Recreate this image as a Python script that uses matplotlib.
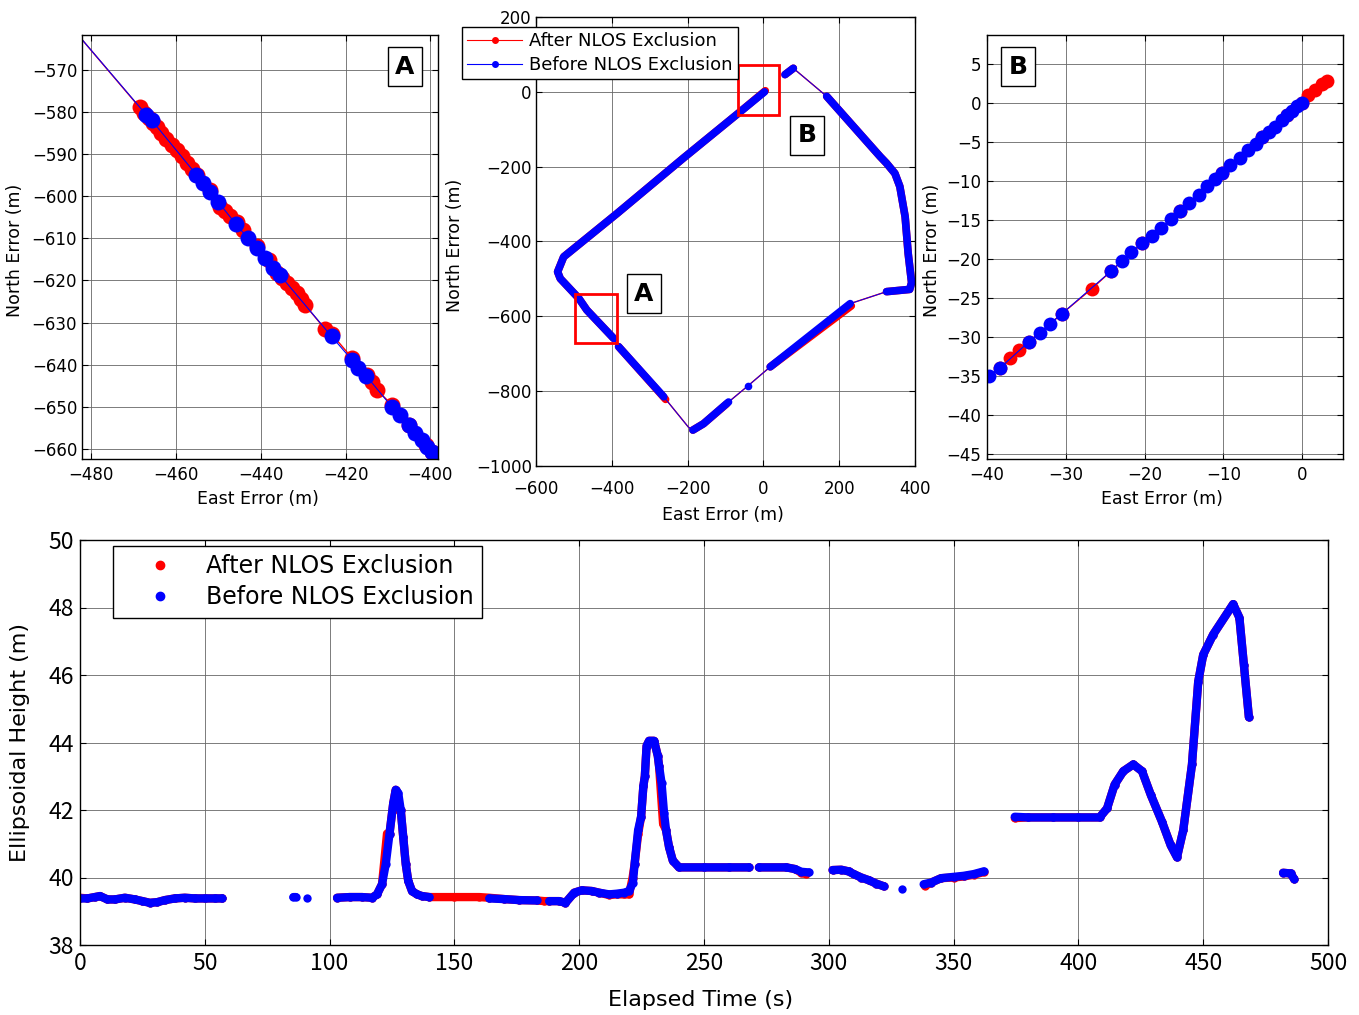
import numpy as np
import matplotlib.pyplot as plt
from matplotlib.lines import Line2D
from matplotlib.patches import Rectangle

nan = np.nan

# ---------------- panel A : zoom of south-west leg ----------------
a_red_e = [-487, -468.6, -467.5, -466.5, -465.5, -464.6, -463.5, -462.3, -461, -459.9, -458.7,
           -457.5, -456.3, -455, -452, -449.7, -448.5, -447.3, -445.7, -444.1, -441, -438,
           -436.3, -435, -433.9, -432.7, -431.5, -430.5, -429.6, -424.8, -423.3, -418.5, -415,
           -413.8, -412.6, -409, -405, -401, -399.6, -395]
a_red_n = [-557.1, -578.9, -580.2, -581.4, -582.5, -583.6, -585.0, -586.4, -587.8, -589.0,
           -590.5, -592.1, -593.5, -595.0, -598.6, -602.5, -603.6, -604.6, -606.2, -608.0,
           -611.7, -615.2, -618.3, -619.5, -620.7, -621.9, -623.0, -624.4, -625.8, -631.6,
           -632.7, -638.4, -642.5, -644.0, -646.0, -649.6, -654.4, -659.1, -660.8, -666.3]
a_blue_e = [-487, -467, -465.8, -455.2, -453.6, -452, -450.1, -445.9, -443, -441, -439, -437.1,
            -435.5, -423.3, -418.5, -417, -415.1, -409.1, -407.1, -405.1, -403.6, -402, -400.8,
            -399.6, -395]
a_blue_n = [-557.1, -580.7, -581.9, -594.9, -596.9, -598.9, -601.3, -606.6, -610, -612.4, -614.7,
            -617.1, -618.7, -633.3, -638.9, -640.9, -642.7, -650, -652, -654.3, -656.3, -657.9,
            -659.5, -660.8, -666.3]

# ---------------- middle : whole trajectory ----------------
mid_e = [3, -61, -211, -386, -527, -543, -536, -487, -466, -395, -382, -263, -198, -184, -158,
         -92, -41, 18, 229, 325, 386, 391, 382, 374, 360, 347, 325, 308, 167, 79, 57]
mid_n = [0, -53, -177, -325, -441, -481, -499, -552, -583, -659, -681, -815, -896, -905, -887,
         -829, -786, -735, -566, -534, -528, -510, -432, -334, -253, -218, -191, -173, -12, 63, 46]
# parts of the trajectory with dense fixes (nan = gap)
dense_blue_e = [3, -61, -211, -386, -527, -543, -536, -487, -466, -395, nan,
                -382, -263, nan, -186, -158, -92, nan, -41, nan, 18, 229, nan,
                325, 386, 391, 382, 374, 360, 347, 325, 308, 167, nan, 79, 57]
dense_blue_n = [0, -53, -177, -325, -441, -481, -499, -552, -583, -659, nan,
                -681, -815, nan, -904, -887, -829, nan, -786, nan, -735, -566, nan,
                -534, -528, -510, -432, -334, -253, -218, -191, -173, -12, nan, 63, 46]
dense_red_e = [5, -61, -211, -386, -527, -543, -536, -487, -466, -395, nan,
               -382, -258, nan, -186, -158, -97, nan, 18, 232, nan,
               325, 386, 391, 382, 374, 360, 347, 325, 308, 167, nan, 79, 57]
dense_red_n = [3, -53, -177, -325, -441, -481, -499, -552, -583, -659, nan,
               -681, -822, nan, -904, -887, -834, nan, -735, -572, nan,
               -534, -528, -510, -432, -334, -253, -218, -191, -173, -12, nan, 63, 46]

# ---------------- panel B : zoom near origin ----------------
b_red_e = [-45, -38.3, -37.1, -35.9, -34.7, -30.5, -26.7, -24.2, -20.3, -15.5, -10.2, -5.1,
           -1.9, 0, 0.8, 1.7, 2.5, 3.2]
b_red_n = [-39.6, -33.9, -32.7, -31.6, -30.6, -27, -23.8, -21.5, -18, -13.9, -9, -4.4,
           -1.6, 0.05, 1.0, 1.7, 2.4, 2.8]
b_blue_e = [-45, -39.8, -38.3, -34.7, -33.3, -32, -30.5, -24.2, -22.9, -21.7, -20.3, -19, -17.9,
            -16.7, -15.5, -14.3, -13.1, -12.1, -11.1, -10.2, -9.1, -7.9, -6.8, -5.9, -5.1, -4.2,
            -3.4, -2.5, -1.9, -1.3, -0.6, 0]
b_blue_n = [-39.6, -35, -33.9, -30.6, -29.4, -28.3, -27, -21.5, -20.2, -19.1, -18, -17, -16,
            -14.9, -13.9, -12.8, -11.8, -10.7, -9.8, -9, -8, -7.1, -6, -5.2, -4.4, -3.7, -3.1,
            -2.2, -1.6, -1, -0.4, 0.05]

# ---------------- bottom : ellipsoidal height ----------------
t_blue = [0, 3, 6, 8, 11, 14, 18, 22, 25, 28, 31, 34, 38, 42, 46, 50, 54, 57, nan,
          85.5, 86.5, nan, 91, nan,
          103, 108, 113, 117, 119, 121, 122.5, 124, 125.5, 126.5, 127.5, 128.5, 129.5, 130.5,
          131.5, 133, 135, 137, 140, nan,
          164, 170, 176, 183, nan, 188, 192, 194.5, 198, 201, 205, 208, 212, 215, 218, 220,
          221.5, 222.2, 223.6, 224.8, 225.7, 226.3, 227, 228, 230, 231.5, 232, 233, 234, 234.8,
          236, 237.5, 240, 250, 260, 268, nan,
          272, 283, 286.5, 289, 292, nan,
          301.5, 305, 308, 310, 313, 316, 319, 322, nan, 329.5, nan,
          338, 341, 345, 350, 354, 358, 362, nan,
          374.5, 380, 390, 400, 408.5, 411.5, 414.5, 418, 422, 425.5, 429, 433.5, 437, 439.5,
          442, 445.5, 448, 450, 454, 462, 464.5, 466.3, 468.3, nan,
          482, 485, 486.5]
h_blue = [39.38, 39.38, 39.42, 39.45, 39.35, 39.35, 39.4, 39.35, 39.3, 39.25, 39.27, 39.33,
          39.38, 39.4, 39.38, 39.38, 39.38, 39.38, nan,
          39.42, 39.42, nan, 39.4, nan,
          39.4, 39.42, 39.42, 39.4, 39.5, 39.8, 40.4, 41.3, 42.2, 42.6, 42.5, 42.0, 41.2, 40.4,
          39.9, 39.6, 39.5, 39.45, 39.42, nan,
          39.38, 39.36, 39.33, 39.32, nan, 39.3, 39.3, 39.25, 39.55, 39.62, 39.6, 39.55, 39.5,
          39.52, 39.55, 39.6,
          39.85, 40.4, 41.4, 41.8, 42.7, 43.0, 43.9, 44.05, 44.05, 43.6, 43.3, 42.8, 41.9, 41.4,
          40.9, 40.5, 40.3, 40.3, 40.3, 40.3, nan,
          40.3, 40.3, 40.25, 40.17, 40.15, nan,
          40.22, 40.23, 40.18, 40.1, 40.0, 39.92, 39.82, 39.74, nan, 39.67, nan,
          39.8, 39.85, 39.98, 40.02, 40.05, 40.1, 40.18, nan,
          41.8, 41.78, 41.78, 41.78, 41.78, 42.05, 42.75, 43.15, 43.35, 43.15, 42.45, 41.65,
          40.95, 40.6, 41.4, 43.35, 45.8, 46.6, 47.2, 48.1, 47.7, 46.3, 44.75, nan,
          40.14, 40.12, 39.95]
t_red = [0, 3, 6, 8, 11, 14, 18, 22, 25, 28, 31, 34, 38, 42, 46, 50, 54, 57, nan,
         103, 108, 113, 117, 119, 121, 123, 124, 125.5, 126.5, 127.7, 128.5, 129.5, 130.5,
         131.5, 133, 135, 137, 140, 150, 160, 164, 170, 176, 183, 186, 188, 192, 194.5, 198,
         201, 205, 208, 212, 215, 218, 220, 221.4, 222.2, 223.6, 224.8, 225.7, 226.3, 227, 228,
         230, 231.5, 232, 232.8, 233.6, 234.8, 236, 237.5, 240, 250, 260, 268, nan,
         272, 283, 286.5, 289, 291, nan,
         301.5, 305, 308, 310, 313, 316, 319, 322, nan,
         338.5, 341, 345, 350, 354, 358, 362, nan,
         374.5, 380, 390, 400, 408.5, 411.5, 414.5, 418, 422, 425.5, 429, 433.5, 437, 439.5,
         442, 445.5, 448, 450, 454, 462, 464.5, 466.3, 468.3, nan,
         482, 485, 486.5]
h_red = [39.4, 39.38, 39.42, 39.45, 39.35, 39.35, 39.4, 39.35, 39.3, 39.25, 39.27, 39.33,
         39.38, 39.4, 39.38, 39.38, 39.38, 39.38, nan,
         39.4, 39.42, 39.42, 39.4, 39.5, 39.8, 41.3, 41.3, 42.2, 42.6, 42.0, 42.0, 41.2, 40.4,
         39.9, 39.6, 39.5, 39.45, 39.42, 39.42, 39.42, 39.4, 39.36, 39.33, 39.32, 39.3, 39.3,
         39.3, 39.25, 39.55, 39.62, 39.6, 39.55, 39.48, 39.5, 39.5, 39.5, 40.0, 40.4, 41.28,
         41.8, 42.7, 43.0, 43.9, 44.05, 44.05, 43.6, 43.3, 42.45, 41.6, 41.4, 40.9, 40.5, 40.3,
         40.3, 40.3, 40.3, nan,
         40.3, 40.3, 40.25, 40.14, 40.1, nan,
         40.22, 40.23, 40.18, 40.1, 40.0, 39.92, 39.82, 39.74, nan,
         39.75, 39.85, 39.98, 40.0, 40.03, 40.08, 40.16, nan,
         41.76, 41.78, 41.78, 41.78, 41.78, 42.05, 42.75, 43.15, 43.35, 43.15, 42.45, 41.65,
         40.95, 40.6, 41.4, 43.35, 45.8, 46.6, 47.2, 48.1, 47.7, 46.3, 44.75, nan,
         40.14, 40.12, 39.95]

RED = '#ff0000'
BLUE = '#0000ff'
W, H = 1359, 1015
plt.rcParams['font.family'] = ['DejaVu Sans']

fig = plt.figure(figsize=(W / 100, H / 100), dpi=100)
ax_a = fig.add_axes([82 / W, 1 - 459 / H, 356 / W, 424 / H])
ax_m = fig.add_axes([536 / W, 1 - 466 / H, 379 / W, 449 / H])
ax_b = fig.add_axes([987 / W, 1 - 459 / H, 356 / W, 424 / H])
ax_t = fig.add_axes([80 / W, 1 - 945 / H, 1248 / W, 405 / H])


def style(ax, fs, xpad, ypad):
    ax.grid(True, color='0.4', lw=0.6, ls='-')
    ax.set_axisbelow(True)
    ax.tick_params(direction='in', top=True, right=True, length=4, width=0.8, labelsize=fs)
    ax.tick_params(axis='x', pad=xpad)
    ax.tick_params(axis='y', pad=ypad)
    for s in ax.spines.values():
        s.set_linewidth(1.0)


def letter(ax, x, y, s, **kw):
    ax.text(x, y, s, fontsize=18, fontweight='bold', ha='center', va='center',
            bbox=dict(boxstyle='square,pad=0.3', fc='white', ec='black', lw=1), **kw)


# panel A
ax_a.plot(a_red_e, a_red_n, '-o', color=RED, lw=1.0, ms=11.5, mec='none')
ax_a.plot(a_blue_e, a_blue_n, '-o', color=BLUE, lw=0.8, ms=11.5, mec='none')
ax_a.set_xlim(-482.2, -398.2)
ax_a.set_ylim(-662.4, -561.7)
ax_a.set_xticks(np.arange(-480, -399, 20))
ax_a.set_yticks(np.arange(-660, -569, 10))
style(ax_a, 12, 5, 3.5)
ax_a.set_xlabel('East Error (m)', fontsize=12.5)
ax_a.set_ylabel('North Error (m)', fontsize=12.5)
ax_a.xaxis.set_label_coords(0.494, -0.072)
ax_a.yaxis.set_label_coords(-0.162, 0.493)
letter(ax_a, 0.907, 0.925, 'A', transform=ax_a.transAxes)

# middle
ax_m.plot(mid_e, mid_n, '-', color=RED, lw=1.0)
ax_m.plot(dense_red_e, dense_red_n, '-', color=RED, lw=5.5, solid_capstyle='round',
          solid_joinstyle='round')
ax_m.plot(mid_e, mid_n, '-', color=BLUE, lw=0.7)
ax_m.plot(dense_blue_e, dense_blue_n, '-o', color=BLUE, lw=5.5, ms=5.5, mec='none',
          solid_capstyle='round', solid_joinstyle='round', markevery=[18])
ax_m.add_patch(Rectangle((-496, -671), 110, 132, fill=False, ec=RED, lw=2, zorder=5))
ax_m.add_patch(Rectangle((-66, -63), 108, 135, fill=False, ec=RED, lw=2, zorder=5))
letter(ax_m, -315, -539, 'A')
letter(ax_m, 116, -116, 'B')
ax_m.set_xlim(-600, 400)
ax_m.set_ylim(-1000, 200)
ax_m.set_xticks(np.arange(-600, 401, 200))
ax_m.set_yticks(np.arange(-1000, 201, 200))
style(ax_m, 12, 10, 3)
ax_m.set_xlabel('East Error (m)', fontsize=12.5)
ax_m.set_ylabel('North Error (m)', fontsize=12.5)
ax_m.xaxis.set_label_coords(0.493, -0.088)
ax_m.yaxis.set_label_coords(-0.19, 0.492)
hm = [Line2D([], [], color=RED, lw=0.8, marker='o', ms=4),
      Line2D([], [], color=BLUE, lw=0.8, marker='o', ms=4)]
leg = ax_m.legend(hm, ['After NLOS Exclusion', 'Before NLOS Exclusion'], fontsize=13,
                  loc='upper left', bbox_to_anchor=(462 / W, 1 - 27 / H),
                  bbox_transform=fig.transFigure, borderaxespad=0, fancybox=False,
                  framealpha=1, edgecolor='black', handlelength=3.0, handletextpad=0.4,
                  labelspacing=0.3, borderpad=0.3)
leg.get_frame().set_linewidth(1.0)

# panel B
ax_b.plot(b_red_e, b_red_n, '-o', color=RED, lw=1.0, ms=10, mec='none')
ax_b.plot(b_blue_e, b_blue_n, '-o', color=BLUE, lw=0.8, ms=10, mec='none')
ax_b.set_xlim(-40, 5.2)
ax_b.set_ylim(-45.6, 8.7)
ax_b.set_xticks(np.arange(-40, 1, 10))
ax_b.set_yticks(np.arange(-45, 6, 5))
style(ax_b, 12, 5, 4)
ax_b.set_xlabel('East Error (m)', fontsize=12.5)
ax_b.set_ylabel('North Error (m)', fontsize=12.5)
ax_b.xaxis.set_label_coords(0.49, -0.072)
ax_b.yaxis.set_label_coords(-0.13, 0.493)
letter(ax_b, 0.087, 0.925, 'B', transform=ax_b.transAxes)

# bottom: height vs time
ax_t.plot(t_red, h_red, '-o', color=RED, lw=6, ms=6, mec='none',
          solid_capstyle='round', solid_joinstyle='round')
ax_t.plot(t_blue, h_blue, '-o', color=BLUE, lw=6, ms=6, mec='none',
          solid_capstyle='round', solid_joinstyle='round')
ax_t.set_xlim(0, 500)
ax_t.set_ylim(38, 50)
ax_t.set_xticks(np.arange(0, 501, 50))
ax_t.set_yticks(np.arange(38, 51, 2))
style(ax_t, 16.5, 5, 4.5)
for lab in ax_t.get_xticklabels() + ax_t.get_yticklabels():
    lab.set_family(['Noto Sans CJK JP', 'DejaVu Sans'])
ax_t.set_xlabel('Elapsed Time (s)', fontsize=16)
ax_t.set_ylabel('Ellipsoidal Height (m)', fontsize=16)
ax_t.xaxis.set_label_coords(0.4976, -0.112)
ax_t.yaxis.set_label_coords(-0.04, 0.499)
ht = [Line2D([], [], color=RED, ls='', marker='o', ms=6),
      Line2D([], [], color=BLUE, ls='', marker='o', ms=6)]
leg2 = ax_t.legend(ht, ['After NLOS Exclusion', 'Before NLOS Exclusion'], fontsize=17,
                   loc='upper left', bbox_to_anchor=(113 / W, 1 - 546 / H),
                   bbox_transform=fig.transFigure, borderaxespad=0, fancybox=False,
                   framealpha=1, edgecolor='black', handlelength=3.3, handletextpad=0.3,
                   labelspacing=0.3, borderpad=0.35)
leg2.get_frame().set_linewidth(1.0)

fig.savefig('out.png', dpi=100)
